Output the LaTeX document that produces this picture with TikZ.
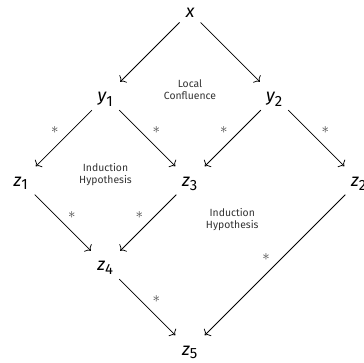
\documentclass[tikz,border=0pt]{standalone}
\usepackage{amsmath}
\usepackage{fontspec}
\setmainfont{Fira Sans}
\usetikzlibrary{arrows.meta}
\newcommand{\termvar}[2]{$\textit{#1}_{\text{\normalsize #2}}$}
\tikzset{
	termnode/.style={font=\large, text height=1.6ex, text depth=0.3ex, inner sep=4pt}
}
\tikzset{
	reduce/.style={-{To[length=3pt,width=7pt]}, line width=0.5pt, shorten >=1pt}
}
\tikzset{
	starlabel/.style={font=\normalsize, text=black!75, inner sep=3pt}
}
\tikzset{
	notetext/.style={font=\scriptsize, align=center, text=black!80}
}

\begin{document}
\begin{tikzpicture}[x=2cm,y=2cm]
\useasboundingbox (-2.249,0.142) rectangle (2.059,-4.154);

\node[termnode] (x) at (0,0) {$\textit{x}$};
\node[termnode] (y1) at (-1,-1) {\termvar{y}{1}};
\node[termnode] (y2) at (1,-1) {\termvar{y}{2}};
\node[termnode] (z1) at (-2,-2) {\termvar{z}{1}};
\node[termnode] (z3) at (0,-2) {\termvar{z}{3}};
\node[termnode] (z2) at (2,-2) {\termvar{z}{2}};
\node[termnode] (z4) at (-1,-3) {\termvar{z}{4}};
\node[termnode] (z5) at (0,-4) {\termvar{z}{5}};

\draw[reduce] (x) -- (y1);
\draw[reduce] (x) -- (y2);
\draw[reduce] (y1) -- node[starlabel, above left] {$\ast$} (z1);
\draw[reduce] (y1) -- node[starlabel, above right] {$\ast$} (z3);
\draw[reduce] (y2) -- node[starlabel, above left] {$\ast$} (z3);
\draw[reduce] (y2) -- node[starlabel, above right] {$\ast$} (z2);
\draw[reduce] (z1) -- node[starlabel, above right] {$\ast$} (z4);
\draw[reduce] (z3) -- node[starlabel, above left] {$\ast$} (z4);
\draw[reduce] (z4) -- node[starlabel, above right] {$\ast$} (z5);
\draw[reduce] (z2) -- node[starlabel, above left] {$\ast$} (z5);

\node[notetext] (lc) at (0,-0.92) {Local\\Confluence};
\node[notetext] (ih1) at (-1,-1.92) {Induction\\Hypothesis};
\node[notetext] (ih2) at (0.5,-2.46) {Induction\\Hypothesis};

\end{tikzpicture}
\end{document}
